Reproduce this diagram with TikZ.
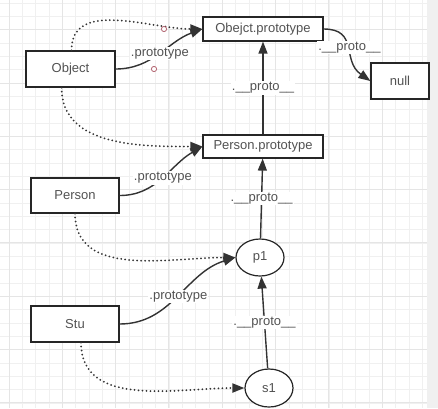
\documentclass[tikz,border=0pt]{standalone}
\usepackage{fontspec}
\setmainfont{Liberation Sans}
\usepackage{tikz}
\usetikzlibrary{arrows.meta, shapes.geometric}
\definecolor{gridline}{gray}{0.94}
\definecolor{gridmajor}{gray}{0.9}
\definecolor{margin}{gray}{0.94}
\definecolor{ink}{gray}{0.32}
\definecolor{handle}{RGB}{176, 96, 108}

\begin{document}
\begin{tikzpicture}[x=1pt, y=-1pt,
  box/.style={draw=black!85, line width=1.2pt, fill=white, text=ink,
    inner sep=0pt, font=\fontsize{13}{15}\selectfont},
  blob/.style={box, ellipse},
  link/.style={draw=black!80, line width=1.4pt,
    -{Triangle[length=12pt, width=9pt]}},
  dots/.style={link, line width=2pt, line cap=round, dash pattern=on 0pt off 4pt},
  lbl/.style={fill=white, text=ink, inner sep=1pt, font=\fontsize{13}{15}\selectfont}]
  \useasboundingbox (0, 0) rectangle (438, 408);

  \begin{scope}
    \clip (0, 0) rectangle (427, 408);
    \foreach \i in {0, ..., 32} {
      \draw [color=gridline, line width=0.8pt] (-4.33+13.33*\i, 0) -- +(0, 408);
      \draw [color=gridline, line width=0.8pt] (0, 3+13.33*\i) -- +(427, 0);
    }
    \foreach \i in {0, ..., 8} {
      \draw [color=gridmajor, line width=1pt] (9+53.33*\i, 0) -- +(0, 408);
      \draw [color=gridmajor, line width=1pt] (0, 29.67+53.33*\i) -- +(427, 0);
    }
  \end{scope}
  \fill [margin] (427, 0) rectangle (438, 408);

  \node [box, minimum width=89pt, minimum height=36pt] (object) at (70.5, 69) {Object};
  \node [box, minimum width=120pt, minimum height=24pt] (objproto) at (263, 29) {Obejct.prototype};
  \node [box, minimum width=58pt, minimum height=36pt] (null) at (400, 81) {null};
  \node [box, minimum width=120pt, minimum height=23pt] (personproto) at (263, 146.5) {Person.prototype};
  \node [box, minimum width=88pt, minimum height=35pt] (person) at (75, 195.5) {Person};
  \node [box, minimum width=88pt, minimum height=36pt] (stu) at (75, 324) {Stu};
  \node [blob, minimum width=48pt, minimum height=37pt] (p1) at (260, 257.5) {p1};
  \node [blob, minimum width=48pt, minimum height=38pt] (s1) at (269, 388) {s1};

  % prototype links
  \draw [dots] ([xshift=1pt]object.north) to[out=90, in=180] (objproto.west);
  \draw [link] (object.east) to[out=0, in=200] node[lbl] {.prototype} (objproto.west);
  \draw [dots] ([xshift=-9pt]object.south) to[out=270, in=180] (personproto.west);
  \draw [link] (person.east) to[out=0, in=210] node[lbl] {.prototype} (personproto.west);
  \draw [dots] (person.south) to[out=270, in=180] (p1.west);
  \draw [link] (stu.east) to[out=0, in=197] node[lbl] {.prototype} (p1.west);
  \draw [dots] ([xshift=6pt]stu.south) to[out=270, in=180] (s1.west);

  % __proto__ chain
  \draw [link] (objproto.east) to[out=0, in=145, looseness=1.3] node[lbl] {.\_\_proto\_\_} (null.west);
  \draw [link] (personproto) -- node[lbl] {.\_\_proto\_\_} (objproto);
  \draw [link] (p1) -- node[lbl] {.\_\_proto\_\_} (personproto);
  \draw [link] (s1) -- node[lbl] {.\_\_proto\_\_} (p1);

  \draw [handle, line width=0.8pt, fill=white] (164, 29) circle (2.6);
  \draw [handle, line width=0.8pt, fill=white] (154, 69) circle (2.6);
\end{tikzpicture}
\end{document}
